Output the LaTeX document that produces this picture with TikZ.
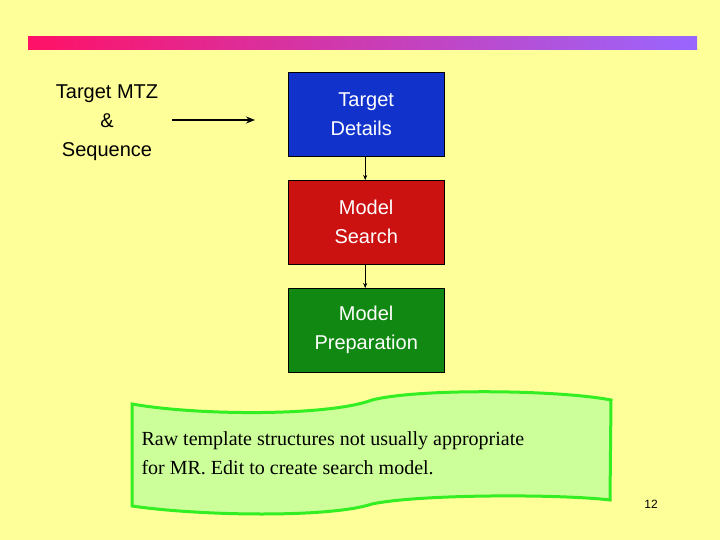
\documentclass[tikz,border=0pt]{standalone}
\usepackage{fontspec}
\setmainfont{Liberation Sans}
\newfontfamily\seriff{Liberation Serif}
\usetikzlibrary{arrows.meta}
\definecolor{bg}{HTML}{FFFF99}
\definecolor{bblue}{HTML}{1133CC}
\definecolor{bred}{HTML}{CC1111}
\definecolor{bgreen}{HTML}{118811}
\definecolor{lgreen}{HTML}{CCFF99}
\definecolor{bord}{HTML}{33EE22}
\definecolor{gA}{HTML}{FF1166}
\definecolor{gB}{HTML}{9966FF}
\begin{document}
\begin{tikzpicture}[x=1pt,y=-1pt,
  box/.style={draw=black,minimum width=156pt,minimum height=84pt,anchor=north west,font=\fontsize{20}{29}\selectfont,align=center,inner sep=0pt},
  link/.style={-{Stealth[length=5pt,width=4pt]},thin}]
\useasboundingbox (0,0) rectangle (720,540);
\fill[bg] (0,0) rectangle (720,540);
\shade[left color=gA,right color=gB] (28,37) rectangle (697,50);
\node[font=\fontsize{20}{29}\selectfont,align=center] (src) at (107,123) {Target MTZ\\\&\\Sequence};
\node[box,fill=bblue,text=white] (td) at (288,72) {Target\\Details\hspace*{10pt}};
\node[box,fill=bred,text=white] (ms) at (288,180) {Model\\Search};
\node[box,fill=bgreen,text=white] (mp) at (288,288) {Model\\Preparation};
\coordinate (ae) at (255,120);
\draw[-{Stealth[length=9pt,width=7pt]},line width=2.5pt] (172,120) -- (ae);
\draw[link] ([xshift=-1pt]td.south) -- ([xshift=-1pt]ms.north);
\draw[link] ([xshift=-1pt]ms.south) -- ([xshift=-1pt]mp.north);
\draw[draw=bord,fill=lgreen,line width=3pt]
 (132,404) .. controls (200,416) and (330,416) .. (372,400)
 .. controls (420,388) and (560,390) .. (611,400)
 -- (610,500)
 .. controls (560,494) and (420,494) .. (372,504)
 .. controls (330,518) and (200,516) .. (132,506) -- cycle;
\node[anchor=west,align=left,font=\seriff\fontsize{20}{29}\selectfont] (note) at (138,453) {Raw template structures not usually appropriate\\for MR. Edit to create search model.};
\node[font=\fontsize{12}{14}\selectfont] (num) at (651,504) {12};
\end{tikzpicture}
\end{document}
